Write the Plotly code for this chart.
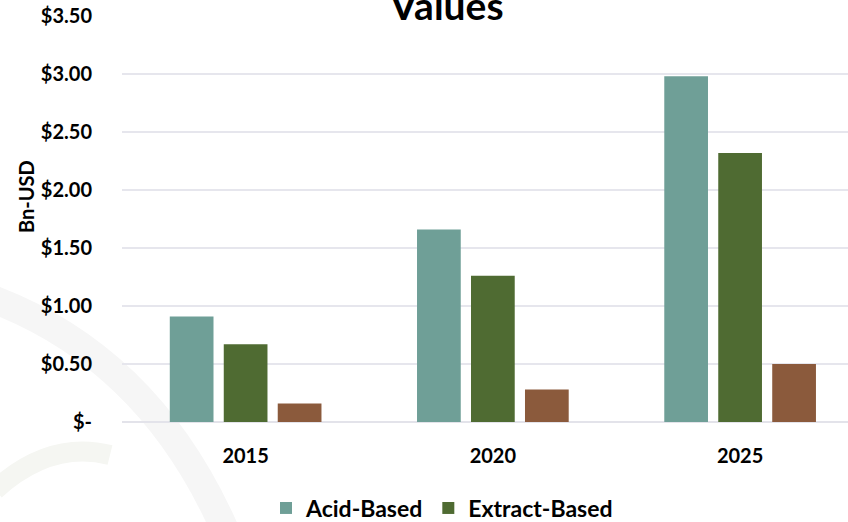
import plotly.graph_objects as go

years = ["2015", "2020", "2025"]
acid_based = [0.91, 1.66, 2.98]
extract_based = [0.67, 1.26, 2.32]
other_based = [0.16, 0.28, 0.50]
series_names = ["Acid-Based", "Extract-Based", "Other"]
tick_vals = [0, 0.5, 1.0, 1.5, 2.0, 2.5, 3.0, 3.5]
tick_text = ["$-", "$0.50", "$1.00", "$1.50", "$2.00", "$2.50", "$3.00", "$3.50"]

FONT = "Lato"
colors = ["#6f9f97", "#4f6b32", "#8b5a3c"]

fig = go.Figure()
for name, vals, col, show in zip(series_names, [acid_based, extract_based, other_based], colors, [True, True, False]):
    fig.add_trace(go.Bar(x=years, y=vals, name=name, marker=dict(color=col, line=dict(width=0)), showlegend=show))

W, H = 848, 522
L, R, T, B = 122, 0, 16, 100
pw = W - L - R
ph = H - T - B


def px(x):
    return (x - L) / pw


def py(y):
    return (H - B - y) / ph


fig.update_layout(
    width=W, height=H,
    margin=dict(l=L, r=R, t=T, b=B, pad=0, autoexpand=False),
    paper_bgcolor="white", plot_bgcolor="rgba(0,0,0,0)",
    barmode="group", bargap=0.345, bargroupgap=0.19,
    font=dict(family=FONT, color="black"),
    showlegend=True,
    legend=dict(orientation="h", x=px(266), xanchor="left", y=py(508), yanchor="middle",
                font=dict(family=FONT, size=23, color="black", weight="bold"),
                itemwidth=30, bgcolor="rgba(0,0,0,0)"),
    xaxis=dict(type="category", range=[-0.5, (W - 245) / 247.5], showgrid=False, showline=False,
               ticks="", tickfont=dict(family=FONT, size=20, weight="bold"), ticklabelstandoff=20),
    yaxis=dict(range=[0, 3.5], tickvals=tick_vals, ticktext=tick_text, showgrid=True,
               gridcolor="#e6e6ed", gridwidth=2, zeroline=True, zerolinecolor="#e3e3ea", zerolinewidth=2,
               showline=False, ticks="", tickfont=dict(family=FONT, size=20, weight="bold"),
               ticklabelstandoff=29),
)

# faint watermark arcs in the background
fig.add_shape(type="path", xref="paper", yref="paper", layer="below",
              path=f"M {px(-5)} {py(300)} Q {px(150)} {py(360)} {px(225)} {py(530)}",
              line=dict(color="#f6f6f6", width=28))
fig.add_shape(type="path", xref="paper", yref="paper", layer="below",
              path=f"M {px(-5)} {py(490)} Q {px(50)} {py(440)} {px(110)} {py(455)}",
              line=dict(color="#f5f6f2", width=20))

fig.add_annotation(text="Values", xref="paper", yref="paper", x=px(446), y=py(5),
                   xanchor="center", yanchor="middle", showarrow=False,
                   font=dict(family=FONT, size=39, color="black", weight="bold"))
fig.add_annotation(text="Bn-USD", xref="paper", yref="paper", x=px(26), y=py(197),
                   xanchor="center", yanchor="middle", textangle=-90, showarrow=False,
                   font=dict(family=FONT, size=20, color="black", weight="bold"))

fig.write_html("out.html", config={"displayModeBar": False},
               post_script="document.body.style.margin='0';")
